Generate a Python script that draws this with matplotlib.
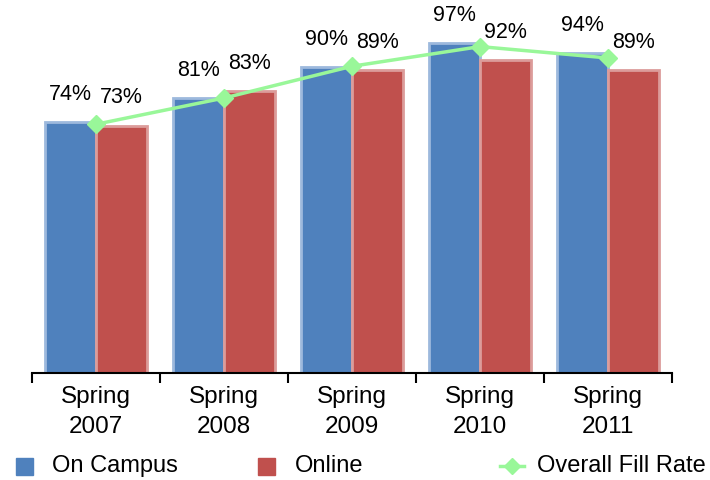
import matplotlib
matplotlib.use("Agg")
import matplotlib.pyplot as plt
import numpy as np
from matplotlib.lines import Line2D
from matplotlib.patches import Rectangle

plt.rcParams['font.family'] = ['Liberation Sans', 'DejaVu Sans']

categories = ["Spring\n2007", "Spring\n2008", "Spring\n2009", "Spring\n2010", "Spring\n2011"]
on_campus = [74, 81, 90, 97, 94]
online = [73, 83, 89, 92, 89]
overall = [73.4, 81.0, 90.2, 95.9, 92.6]
series_names = ["On Campus", "Online", "Overall Fill Rate"]

blue, blue_edge = "#4F81BD", "#9DB9DD"
red, red_edge = "#C0504D", "#DC9C9A"
green = "#99F799"

W, H = 710, 480
fig = plt.figure(figsize=(W / 100, H / 100), dpi=100)
ax = fig.add_axes([32 / W, 1 - 373 / H, 640 / W, 373 / H])

x = np.arange(len(categories))
w = 0.4
ax.bar(x - w / 2, on_campus, w, color=blue, edgecolor=blue_edge, linewidth=2, zorder=2)
ax.bar(x + w / 2, online, w, color=red, edgecolor=red_edge, linewidth=2, zorder=2)
ax.plot(x, overall, color=green, linewidth=2.5, marker="D", markersize=9, zorder=3)

for xi, v in zip(x - w / 2, on_campus):
    ax.annotate(f"{v}%", (xi, v), xytext=(0, 20), textcoords="offset points",
                ha="center", va="center", fontsize=15.5)
for xi, v in zip(x + w / 2, online):
    ax.annotate(f"{v}%", (xi, v), xytext=(0, 20), textcoords="offset points",
                ha="center", va="center", fontsize=15.5)

ax.set_xlim(-0.5, len(categories) - 0.5)
ax.set_ylim(1.33, 109.4)
ax.set_yticks([])
for s in ["top", "right", "left"]:
    ax.spines[s].set_visible(False)
ax.spines["bottom"].set_linewidth(1.5)

ax.set_xticks(np.arange(len(categories) + 1) - 0.5)
ax.set_xticklabels([])
ax.tick_params(axis="x", which="major", direction="out", length=7, width=1.5)
ax.set_xticks(x, minor=True)
ax.set_xticklabels(categories, minor=True, fontsize=17.5, linespacing=1.5)
ax.tick_params(axis="x", which="minor", length=0, pad=9)

# legend row along the bottom edge
ly = 1 - 466 / H
sq = 17
fig.add_artist(Rectangle((16 / W, ly - sq / 2 / H), sq / W, sq / H, color=blue,
                         transform=fig.transFigure))
fig.text(52 / W, ly, series_names[0], fontsize=17, va="center", ha="left")
fig.add_artist(Rectangle((258 / W, ly - sq / 2 / H), sq / W, sq / H, color=red,
                         transform=fig.transFigure))
fig.text(295 / W, ly, series_names[1], fontsize=17, va="center", ha="left")
fig.add_artist(Line2D([500 / W, 524 / W], [ly, ly], color=green, linewidth=2.5,
                      transform=fig.transFigure))
fig.add_artist(Line2D([512 / W], [ly], color=green, marker="D", markersize=8,
                      transform=fig.transFigure))
fig.text(537 / W, ly, series_names[2], fontsize=17, va="center", ha="left")

fig.savefig("out.png", dpi=100)
